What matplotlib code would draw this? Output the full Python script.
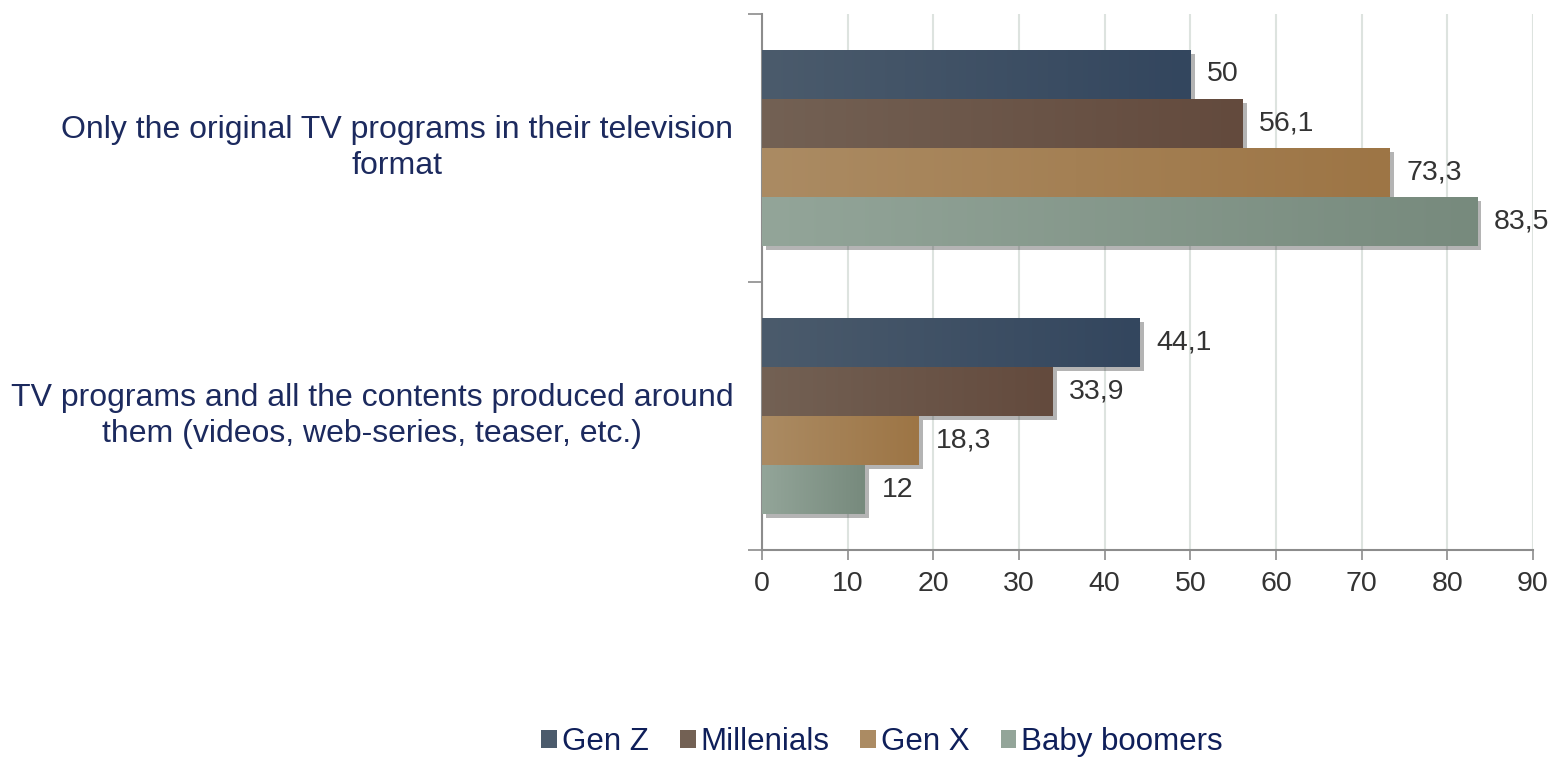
import matplotlib
matplotlib.use("Agg")
import matplotlib.pyplot as plt
import matplotlib.patheffects as pe
import numpy as np
from matplotlib.colors import LinearSegmentedColormap
from matplotlib.patches import Patch

plt.rcParams["font.family"] = ["Liberation Sans", "DejaVu Sans"]

categories = [
    "Only the original TV programs in their television\nformat",
    "TV programs and all the contents produced around\nthem (videos, web-series, teaser, etc.)",
]
generations = ["Gen Z", "Millenials", "Gen X", "Baby boomers"]
values = {
    "Gen Z": [50.0, 44.1],
    "Millenials": [56.1, 33.9],
    "Gen X": [73.3, 18.3],
    "Baby boomers": [83.5, 12.0],
}
# left/right shades of each bar's horizontal gradient
shades = {
    "Gen Z": ("#4b5b6c", "#33465e"),
    "Millenials": ("#736154", "#634a3d"),
    "Gen X": ("#ab8b63", "#9d7545"),
    "Baby boomers": ("#93a599", "#778a7d"),
}
x_ticks = list(range(0, 100, 10))

fig = plt.figure(figsize=(15.52, 7.58), dpi=100)
ax = fig.add_axes([762 / 1552, 1 - 550 / 758, (1533 - 762) / 1552, (550 - 14) / 758])

bar_h = 0.183
y_pos = np.arange(len(categories))
grad = np.linspace(0, 1, 256).reshape(1, -1)

for i, gen in enumerate(generations):
    offs = (i - 1.5) * bar_h
    bars = ax.barh(y_pos + offs, values[gen], height=bar_h, color=shades[gen][1],
                   linewidth=0, zorder=3,
                   path_effects=[pe.SimplePatchShadow(offset=(3, -3), shadow_rgbFace="#444444", alpha=0.4),
                                 pe.Normal()])
    cmap = LinearSegmentedColormap.from_list(gen, list(shades[gen]))
    for bar, v in zip(bars, values[gen]):
        x0, y0 = bar.get_x(), bar.get_y()
        w, h = bar.get_width(), bar.get_height()
        im = ax.imshow(grad, cmap=cmap, aspect="auto", extent=(x0, x0 + w, y0 + h, y0),
                       zorder=4, interpolation="bilinear")
        im.set_clip_path(bar)
        label = f"{v:g}".replace(".", ",")
        ax.annotate(label, xy=(x0 + w, y0 + h / 2), xytext=(12, 0), textcoords="offset points",
                    ha="left", va="center", fontsize=20.5, color="#333333", zorder=5)

ax.set_xlim(0, 90)
ax.set_ylim(1.5, -0.5)
ax.set_xticks(x_ticks)
ax.tick_params(axis="x", labelsize=20.5, colors="#333333", length=7, width=1.2,
               color="#8c8c8c", pad=8)
ax.set_yticks([])
ax.set_yticks([-0.5, 0.5, 1.5], minor=True)
ax.tick_params(axis="y", which="minor", length=10, width=1.2, color="#8c8c8c")
ax.grid(axis="x", color="#dde3df", linewidth=1.5, zorder=0)
ax.set_axisbelow(True)
for side in ("top", "right"):
    ax.spines[side].set_visible(False)
for side in ("left", "bottom"):
    ax.spines[side].set_color("#8c8c8c")
    ax.spines[side].set_linewidth(1.5)

# category names, centred lines, right edge beside the axis
for y, cat in zip(y_pos, categories):
    ax.text(-0.037, y, cat, transform=ax.get_yaxis_transform(), ha="right", va="center",
            multialignment="center", fontsize=23, color="#1c2a5e", linespacing=1.3)

handles = [Patch(facecolor=shades[g][0], edgecolor="none") for g in generations]
fig.legend(handles, generations, loc="center", bbox_to_anchor=(882 / 1552, 1 - 742 / 758),
           ncol=4, frameon=False, fontsize=22.5, labelcolor="#0f1f5a",
           handlelength=0.5, handleheight=0.5, handletextpad=0.15, columnspacing=1.0)

fig.savefig("out.png", dpi=100)
